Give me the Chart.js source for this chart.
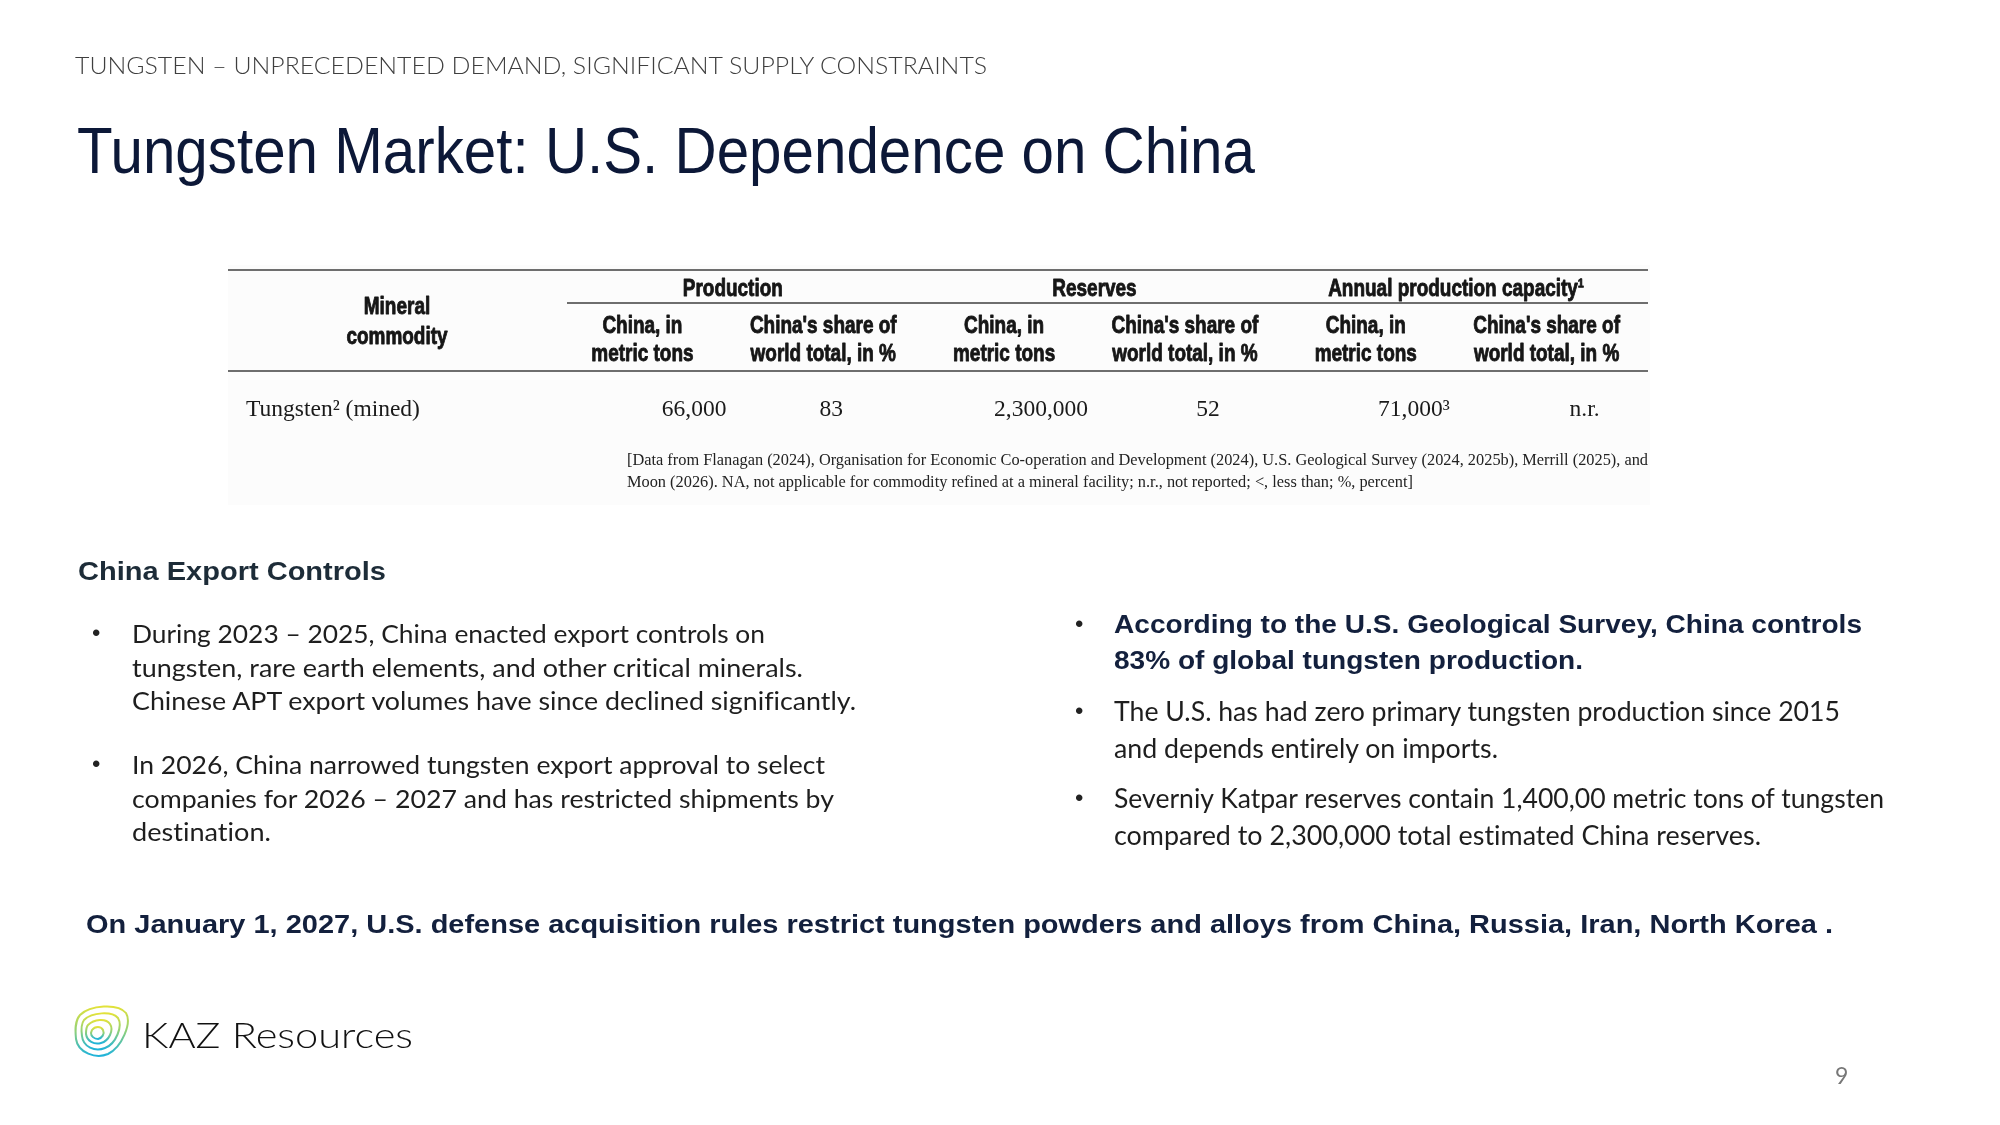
<!DOCTYPE html>
<html>
<head>
<meta charset="utf-8">
<script src="https://cdn.jsdelivr.net/npm/chart.js@4/dist/chart.umd.min.js"></script>
<style>
  html,body{margin:0;padding:0;background:#fff;}
  body{width:2000px;height:1125px;position:relative;overflow:hidden;}
  #tbl{position:absolute;left:0;top:0;width:2000px;height:1125px;}
  .t{position:absolute;line-height:0;white-space:nowrap;transform-origin:0 0;font-variant-ligatures:none;}
  .hdr{font-family:Lato,sans-serif;font-weight:300;font-size:24px;color:#3f3f3f;}
  .title{font-family:"Liberation Sans",Arial,sans-serif;font-size:64px;color:#0c1838;}
  .h2{font-family:"Liberation Sans",Arial,sans-serif;font-weight:bold;font-size:26px;color:#1d2c38;}
  .body{font-family:Lato,sans-serif;font-size:25px;color:#1e1e1e;}
  .bodyR{font-family:Lato,sans-serif;font-size:26px;color:#1e1e1e;}
  .bold{font-family:"Liberation Sans",Arial,sans-serif;font-weight:bold;font-size:26px;color:#13203d;}
  .bul{position:absolute;line-height:0;font-family:"Liberation Sans",Arial,sans-serif;font-size:24px;color:#222;}
  .logo{font-family:Lato,sans-serif;font-weight:300;font-size:36px;color:#111;}
  .pg{font-family:Lato,sans-serif;font-size:23px;color:#777;}
</style>
</head>
<body>
<canvas id="tbl" width="2000" height="1125"></canvas>

<div class="t hdr" style="left:75px;top:65px" data-w="912">TUNGSTEN – UNPRECEDENTED DEMAND, SIGNIFICANT SUPPLY CONSTRAINTS</div>
<div class="t title" style="left:77px;top:151px" data-w="1178">Tungsten Market: U.S. Dependence on China</div>

<div class="t h2" style="left:78px;top:571px" data-w="308">China Export Controls</div>
<div class="bul" style="left:92px;top:633px">•</div>
<div class="t body" style="left:132px;top:633px" data-w="633">During 2023 – 2025, China enacted export controls on</div>
<div class="t body" style="left:132px;top:667px" data-w="671">tungsten, rare earth elements, and other critical minerals.</div>
<div class="t body" style="left:132px;top:700px" data-w="724">Chinese APT export volumes have since declined significantly.</div>
<div class="bul" style="left:92px;top:764px">•</div>
<div class="t body" style="left:132px;top:764px" data-w="693">In 2026, China narrowed tungsten export approval to select</div>
<div class="t body" style="left:132px;top:798px" data-w="702">companies for 2026 – 2027 and has restricted shipments by</div>
<div class="t body" style="left:132px;top:831px" data-w="139">destination.</div>

<div class="bul" style="left:1075px;top:624px">•</div>
<div class="t bold" style="left:1114px;top:624px" data-w="748">According to the U.S. Geological Survey, China controls</div>
<div class="t bold" style="left:1114px;top:660px" data-w="469">83% of global tungsten production.</div>
<div class="bul" style="left:1075px;top:711px">•</div>
<div class="t bodyR" style="left:1114px;top:711px" data-w="726">The U.S. has had zero primary tungsten production since 2015</div>
<div class="t bodyR" style="left:1114px;top:748px" data-w="384">and depends entirely on imports.</div>
<div class="bul" style="left:1075px;top:798px">•</div>
<div class="t bodyR" style="left:1114px;top:798px" data-w="770">Severniy Katpar reserves contain 1,400,00 metric tons of tungsten</div>
<div class="t bodyR" style="left:1114px;top:835px" data-w="647">compared to 2,300,000 total estimated China reserves.</div>

<div class="t bold" style="left:86px;top:924px" data-w="1747">On January 1, 2027, U.S. defense acquisition rules restrict tungsten powders and alloys from China, Russia, Iran, North Korea .</div>

<svg style="position:absolute;left:72px;top:1003px" width="60" height="56" viewBox="0 0 60 56">
  <defs>
    <linearGradient id="lg" x1="0" y1="0" x2="0" y2="1">
      <stop offset="0" stop-color="#e2e23a"/>
      <stop offset="0.5" stop-color="#8fd07a"/>
      <stop offset="1" stop-color="#1fb3da"/>
    </linearGradient>
  </defs>
  <g fill="none" stroke="url(#lg)" stroke-width="2">
    <path d="M8,12 C18,2 46,0 54,10 C60,20 50,44 36,51 C24,56 6,50 4,36 C3,26 3,18 8,12 Z"/>
    <path d="M12,17 C20,9 40,8 46,15 C51,23 44,41 33,45 C23,49 11,44 10,33 C9,26 9,21 12,17 Z"/>
    <path d="M16,22 C22,16 34,15 38,21 C42,27 37,38 29,40 C22,42 15,38 14,31 C14,27 14,24 16,22 Z"/>
    <path d="M20,27 C23,23 29,23 31,27 C33,31 30,35 26,36 C22,36 19,33 19,30 Z"/>
  </g>
</svg>
<div class="t logo" style="left:142px;top:1034px" data-w="271">KAZ Resources</div>
<div class="t pg" style="left:1835px;top:1075px">9</div>

<script>
// ---------------- table data ----------------
const commodities      = ["Tungsten"];
const commodityNotes   = ["2"];
const commodityForms   = ["(mined)"];
const stubHeaderLines  = ["Mineral", "commodity"];
const groupHeaders     = ["Production", "Reserves", "Annual production capacity"];
const groupHeaderNotes = ["", "", "1"];
const subHeaderTons    = ["China, in", "metric tons"];
const subHeaderShare   = ["China's share of", "world total, in %"];
const productionTons   = [66000];
const productionShare  = [83];
const reservesTons     = [2300000];
const reservesShare    = [52];
const capacityTons     = [71000];
const capacityTonsNote = ["3"];
const capacityShare    = ["n.r."];
const footnoteLines = [
  "[Data from Flanagan (2024), Organisation for Economic Co-operation and Development (2024), U.S. Geological Survey (2024, 2025b), Merrill (2025), and",
  "Moon (2026). NA, not applicable for commodity refined at a mineral facility; n.r., not reported; <, less than; %, percent]"
];

const SUP = {"1":"\u00b9","2":"\u00b2","3":"\u00b3"};
const sup = s => s.split("").map(c => SUP[c] || c).join("");
const fmt = v => (typeof v === "number") ? v.toLocaleString("en-US") : v;

// one cell per column (x = column index, y = row middle)
const row = 0;
const cells = [
  {x:1, y:0.5, kind:"tons",  text: fmt(productionTons[row])},
  {x:2, y:0.5, kind:"share", text: fmt(productionShare[row])},
  {x:3, y:0.5, kind:"tons",  text: fmt(reservesTons[row])},
  {x:4, y:0.5, kind:"share", text: fmt(reservesShare[row])},
  {x:5, y:0.5, kind:"tons",  text: fmt(capacityTons[row]) + sup(capacityTonsNote[row])},
  {x:6, y:0.5, kind:"share", text: fmt(capacityShare[row])}
];

const HEAD_FONT = 'bold 24px "Liberation Sans", Arial, sans-serif';
const HEAD_SX = 0.79;
const BODY_FONT = '23.5px "Liberation Serif", "Times New Roman", serif';
const NOTE_FONT = '16px "Liberation Serif", "Times New Roman", serif';

function txt(ctx, s, x, y, align, font, sx, color, embolden){
  ctx.save();
  ctx.font = font;
  ctx.fillStyle = color || "#1a1a1a";
  ctx.textBaseline = "middle";
  const w = ctx.measureText(s).width * sx;
  let left = x;
  if (align === "center") left = x - w/2;
  else if (align === "right") left = x - w;
  ctx.translate(left, y);
  ctx.scale(sx, 1);
  ctx.textAlign = "left";
  ctx.fillText(s, 0, 0);
  if (embolden){
    ctx.strokeStyle = color || "#1a1a1a";
    ctx.lineWidth = embolden;
    ctx.lineJoin = "round";
    ctx.strokeText(s, 0, 0);
  }
  ctx.restore();
}

const tablePlugin = {
  id: "tableDraw",
  afterDatasetsDraw(chart){
    const ctx = chart.ctx;
    const xs = chart.scales.x, ys = chart.scales.y;
    const area = chart.chartArea;
    const tableLeft = area.left - 324, tableRight = area.right + 11;
    const top = area.top;
    // background of the table image
    ctx.save();
    ctx.fillStyle = "#fcfcfc";
    ctx.fillRect(tableLeft, top - 110, tableRight - tableLeft + 2, 240);
    // rules
    ctx.strokeStyle = "#6e6e6e";
    ctx.lineWidth = 2;
    ctx.beginPath();
    ctx.moveTo(tableLeft, top - 105); ctx.lineTo(tableRight, top - 105);
    ctx.moveTo(area.left + 15, top - 72); ctx.lineTo(tableRight, top - 72);
    ctx.moveTo(tableLeft, top - 4); ctx.lineTo(tableRight, top - 4);
    ctx.stroke();
    ctx.restore();

    const hc = "#161616";
    const EB = 0.9;
    // stub header
    const stubX = area.left - 155;
    txt(ctx, stubHeaderLines[0], stubX, top - 68, "center", HEAD_FONT, HEAD_SX, hc, EB);
    txt(ctx, stubHeaderLines[1], stubX, top - 38, "center", HEAD_FONT, HEAD_SX, hc, EB);
    // group headers (span two columns each)
    groupHeaders.forEach((g, i) => {
      const cx = (xs.getPixelForValue(2*i + 1) + xs.getPixelForValue(2*i + 2)) / 2;
      txt(ctx, g + sup(groupHeaderNotes[i]), cx, top - 86, "center", HEAD_FONT, HEAD_SX, hc, EB);
    });
    // sub headers
    for (let c = 1; c <= 6; c++){
      const lines = (c % 2 === 1) ? subHeaderTons : subHeaderShare;
      const cx = xs.getPixelForValue(c);
      txt(ctx, lines[0], cx, top - 49, "center", HEAD_FONT, HEAD_SX, hc, EB);
      txt(ctx, lines[1], cx, top - 21, "center", HEAD_FONT, HEAD_SX, hc, EB);
    }
    // data row
    const meta = chart.getDatasetMeta(0);
    const ds = chart.data.datasets[0].data;
    const rowY = ys.getPixelForValue(cells[0].y);
    txt(ctx, commodities[row] + sup(commodityNotes[row]) + " " + commodityForms[row],
        area.left - 306, rowY, "left", BODY_FONT, 1, "#1a1a1a");
    meta.data.forEach((pt, i) => {
      const c = ds[i];
      if (c.kind === "tons") txt(ctx, c.text, pt.x + 84, pt.y, "right", BODY_FONT, 1, "#1a1a1a");
      else txt(ctx, c.text, pt.x + 8 + (c.x - 2) * 7.5, pt.y, "center", BODY_FONT, 1, "#1a1a1a");
    });
    // footnote
    const fx = area.left + 75;
    ctx.save();
    ctx.font = NOTE_FONT;
    const w0 = ctx.measureText(footnoteLines[0]).width;
    ctx.restore();
    const fsx = (tableRight - fx) / w0;
    txt(ctx, footnoteLines[0], fx, top + 86, "left", NOTE_FONT, fsx, "#222");
    txt(ctx, footnoteLines[1], fx, top + 108, "left", NOTE_FONT, fsx, "#222");
  }
};

new Chart(document.getElementById("tbl").getContext("2d"), {
  type: "scatter",
  data: { datasets: [{ data: cells, pointRadius: 0, pointHoverRadius: 0, showLine: false }] },
  options: {
    responsive: false,
    animation: false,
    devicePixelRatio: 1,
    events: [],
    layout: { padding: { left: 552, right: 363, top: 375, bottom: 680 } },
    scales: {
      x: { type: "linear", min: 0.5, max: 6.5, display: false },
      y: { type: "linear", min: 0, max: 1, display: false }
    },
    plugins: { legend: { display: false }, tooltip: { enabled: false }, title: { display: false } }
  },
  plugins: [tablePlugin]
});

// fit slide text lines to the measured widths
document.querySelectorAll(".t[data-w]").forEach(el => {
  el.style.display = "inline-block";
  const w = el.getBoundingClientRect().width;
  const target = parseFloat(el.dataset.w);
  if (w > 0) el.style.transform = "scaleX(" + (target / w) + ")";
});
</script>
</body>
</html>
